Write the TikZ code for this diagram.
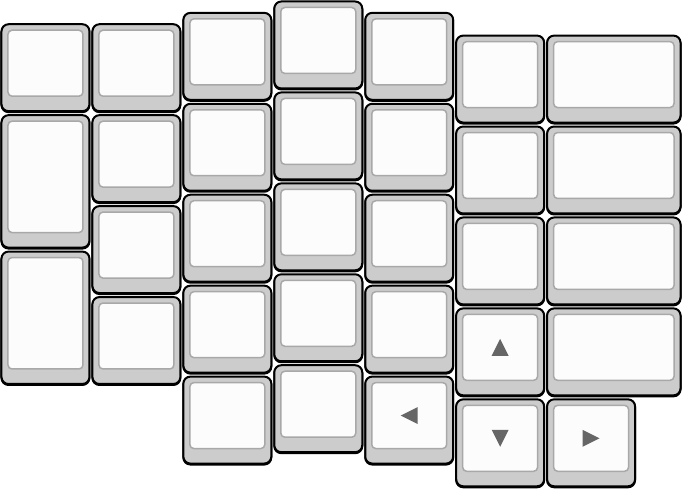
\documentclass[tikz,border=0pt]{standalone}
\begin{document}
\begin{tikzpicture}[x=1pt,y=-1pt]
\def\ku{90.95}
\definecolor{keygray}{HTML}{CCCCCC}
\definecolor{keytop}{HTML}{FCFCFC}
\definecolor{keyedge}{HTML}{A8A8A8}
\definecolor{arrowgray}{HTML}{666666}
\tikzset{
  keyout/.style={draw=black, line width=2pt, fill=keygray, rounded corners=7pt, inner sep=0pt, outer sep=0pt,
    preaction={draw=black, fill=black, line width=2pt, transform canvas={yshift=-1pt}}},
  keyin/.style={draw=keyedge, line width=1.5pt, fill=keytop, rounded corners=4pt, inner sep=0pt, outer sep=0pt},
  arrowfill/.style={fill=arrowgray}
}
\newcommand\kbkey[5]{%
  \node[keyout, minimum width={#4*\ku-3}, minimum height={#5*\ku-4}] (#1) at ({(#2+#4/2)*\ku},{(#3+#5/2)*\ku-0.5}) {};
  \node[keyin, minimum width={#4*\ku-16}, minimum height={#5*\ku-25}] (#1-in) at ([yshift=4.5pt]#1.center) {};
}
\useasboundingbox (0,0) rectangle (682.1,488.8);
% column 0
\kbkey{a1}{0}{0.25}{1}{1}
\kbkey{a2}{0}{1.25}{1}{1.5}
\kbkey{a3}{0}{2.75}{1}{1.5}
% column 1
\kbkey{b1}{1}{0.25}{1}{1}
\kbkey{b2}{1}{1.25}{1}{1}
\kbkey{b3}{1}{2.25}{1}{1}
\kbkey{b4}{1}{3.25}{1}{1}
% column 2
\kbkey{c1}{2}{0.125}{1}{1}
\kbkey{c2}{2}{1.125}{1}{1}
\kbkey{c3}{2}{2.125}{1}{1}
\kbkey{c4}{2}{3.125}{1}{1}
\kbkey{c5}{2}{4.125}{1}{1}
% column 3
\kbkey{d1}{3}{0}{1}{1}
\kbkey{d2}{3}{1}{1}{1}
\kbkey{d3}{3}{2}{1}{1}
\kbkey{d4}{3}{3}{1}{1}
\kbkey{d5}{3}{4}{1}{1}
% column 4
\kbkey{e1}{4}{0.125}{1}{1}
\kbkey{e2}{4}{1.125}{1}{1}
\kbkey{e3}{4}{2.125}{1}{1}
\kbkey{e4}{4}{3.125}{1}{1}
\kbkey{e5}{4}{4.125}{1}{1}
% column 5
\kbkey{f1}{5}{0.375}{1}{1}
\kbkey{f2}{5}{1.375}{1}{1}
\kbkey{f3}{5}{2.375}{1}{1}
\kbkey{f4}{5}{3.375}{1}{1}
\kbkey{f5}{5}{4.375}{1}{1}
% column 6
\kbkey{g1}{6}{0.375}{1.5}{1}
\kbkey{g2}{6}{1.375}{1.5}{1}
\kbkey{g3}{6}{2.375}{1.5}{1}
\kbkey{g4}{6}{3.375}{1.5}{1}
\kbkey{g5}{6}{4.375}{1}{1}
% arrows
\fill[arrowfill] (f4-in.center) ++(0,-8.5) -- ++(8.5,17) -- ++(-17,0) -- cycle;
\fill[arrowfill] (f5-in.center) ++(0,8.5) -- ++(8.5,-17) -- ++(-17,0) -- cycle;
\fill[arrowfill] (e5-in.center) ++(-8.5,0) -- ++(17,-8.5) -- ++(0,17) -- cycle;
\fill[arrowfill] (g5-in.center) ++(8.5,0) -- ++(-17,-8.5) -- ++(0,17) -- cycle;
\end{tikzpicture}
\end{document}
